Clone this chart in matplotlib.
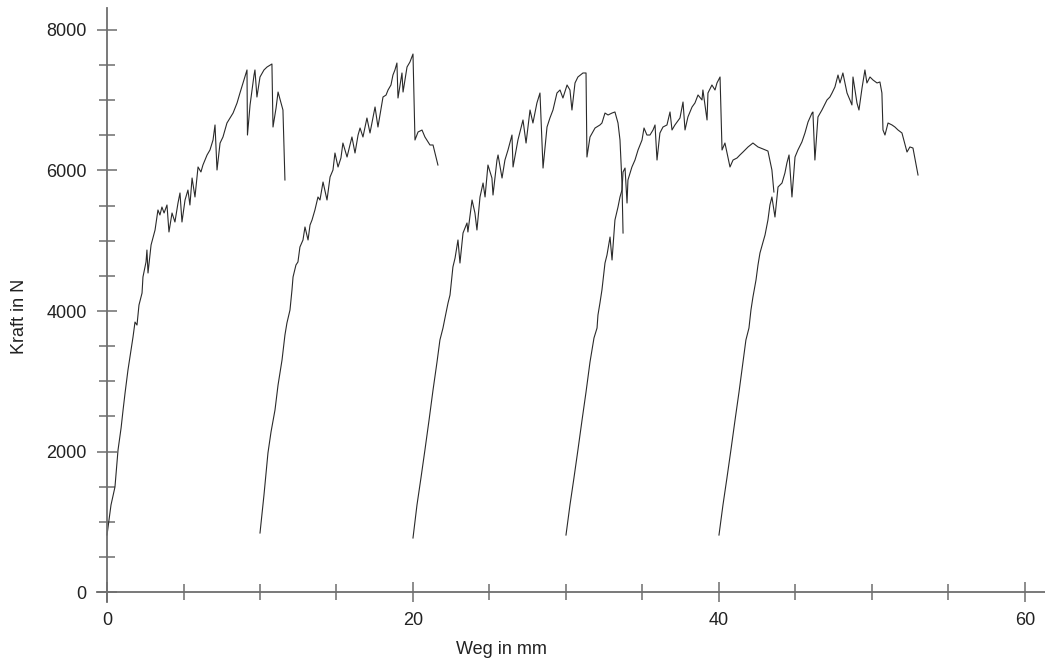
import matplotlib.pyplot as plt
from matplotlib.ticker import MultipleLocator

# Kraft-Weg-Kurven, fuenf Versuche
weg_1 = [0.00, 0.26, 0.52, 0.72, 0.92, 1.05, 1.18, 1.37, 1.57, 1.70, 1.83, 1.96, 2.09, 2.29, 2.35,
         2.55, 2.61, 2.68, 2.88, 3.14, 3.33, 3.46, 3.59, 3.73, 3.92, 4.05, 4.25, 4.44, 4.64, 4.77,
         4.90, 5.10, 5.29, 5.42, 5.56, 5.75, 5.95, 6.14, 6.27, 6.54, 6.73, 6.93, 7.06, 7.19, 7.39,
         7.58, 7.84, 8.04, 8.24, 8.50, 8.69, 8.95, 9.15, 9.18, 9.35, 9.48, 9.61, 9.67, 9.80, 10.00,
         10.26, 10.46, 10.78, 10.85, 11.05, 11.18, 11.50, 11.63]
kraft_1 = [811, 1238, 1495, 2021, 2335, 2591, 2833, 3160, 3445, 3630, 3843, 3800, 4085, 4256, 4484,
           4698, 4868, 4541, 4940, 5153, 5438, 5367, 5480, 5395, 5509, 5125, 5395, 5267, 5537, 5680,
           5267, 5580, 5722, 5509, 5893, 5623, 6050, 5979, 6078, 6221, 6292, 6434, 6648, 6007, 6391,
           6477, 6676, 6747, 6818, 6961, 7103, 7288, 7431, 6505, 6932, 7146, 7359, 7431, 7046, 7331,
           7431, 7473, 7516, 6619, 6890, 7117, 6861, 5865]

weg_2 = [10.00, 10.26, 10.52, 10.72, 10.98, 11.18, 11.44, 11.63, 11.76, 11.96, 12.09, 12.16, 12.35,
         12.48, 12.61, 12.81, 12.94, 13.14, 13.27, 13.40, 13.59, 13.79, 13.92, 14.12, 14.38, 14.58,
         14.77, 14.90, 15.10, 15.29, 15.42, 15.69, 15.88, 16.01, 16.21, 16.41, 16.54, 16.73, 16.99,
         17.19, 17.52, 17.71, 18.04, 18.24, 18.37, 18.56, 18.69, 18.82, 18.95, 19.02, 19.28, 19.35,
         19.61, 19.80, 20.00, 20.13, 20.33, 20.59, 20.78, 21.11, 21.31, 21.63]
kraft_2 = [840, 1381, 1979, 2278, 2591, 2947, 3303, 3658, 3829, 4014, 4299, 4484, 4655,
           4698, 4911, 5011, 5196, 5011, 5224, 5295, 5438, 5623, 5580, 5836, 5580, 5908,
           6007, 6249, 6050, 6178, 6391, 6192, 6363, 6477, 6249, 6505, 6605, 6477, 6747,
           6534, 6904, 6619, 7046, 7074, 7146, 7217, 7359, 7431, 7530, 7032, 7388, 7117,
           7473, 7544, 7658, 6434, 6548, 6576, 6477, 6363, 6363, 6078]

weg_3 = [20.00, 20.26, 20.52, 20.78, 21.05, 21.31, 21.57, 21.76, 21.96, 22.09, 22.29, 22.42, 22.61,
         22.75, 22.94, 23.07, 23.27, 23.53, 23.59, 23.86, 24.05, 24.18, 24.38, 24.58, 24.71, 24.90,
         25.16, 25.23, 25.49, 25.56, 25.82, 26.01, 26.21, 26.47, 26.54, 26.86, 27.19, 27.39, 27.65,
         27.84, 28.10, 28.30, 28.50, 28.76, 28.95, 29.15, 29.41, 29.61, 29.80, 30.07, 30.26, 30.39,
         30.59, 30.78, 31.11, 31.31, 31.37, 31.57, 31.90, 32.22, 32.35, 32.55, 32.75, 33.01, 33.20,
         33.40, 33.53, 33.66, 33.73]
kraft_3 = [769, 1238, 1623, 2021, 2448, 2876, 3274, 3587, 3758, 3900, 4114, 4228, 4627,
           4754, 5011, 4683, 5110, 5253, 5125, 5580, 5395, 5153, 5623, 5822, 5623, 6078,
           5893, 5651, 6149, 6221, 5893, 6149, 6292, 6505, 6050, 6434, 6719, 6391, 6861,
           6676, 6961, 7103, 6035, 6619, 6747, 6861, 7103, 7146, 7032, 7217, 7146, 6861,
           7246, 7331, 7388, 7388, 6192, 6477, 6605, 6648, 6676, 6818, 6790, 6818, 6833,
           6676, 6434, 5822, 5110]

weg_4 = [30.00, 30.26, 30.52, 30.78, 31.05, 31.31, 31.57, 31.83, 32.03, 32.09, 32.22, 32.35, 32.55,
         32.68, 32.88, 33.01, 33.20, 33.40, 33.53, 33.66, 33.73, 33.86, 33.99, 34.05, 34.31, 34.51,
         34.71, 34.97, 35.10, 35.29, 35.49, 35.69, 35.82, 35.95, 36.14, 36.34, 36.60, 36.80, 36.93,
         37.12, 37.45, 37.65, 37.78, 37.97, 38.24, 38.43, 38.63, 38.89, 38.95, 39.22, 39.28, 39.54,
         39.74, 39.87, 40.07, 40.20, 40.39, 40.72, 40.92, 41.18, 41.37, 41.57, 41.90, 42.22, 42.55,
         42.88, 43.20, 43.46, 43.59]
kraft_4 = [811, 1238, 1623, 2021, 2448, 2847, 3274, 3616, 3758, 3943, 4114, 4299, 4683,
           4797, 5053, 4726, 5295, 5480, 5623, 5722, 5979, 6035, 5537, 5865, 6050, 6149,
           6292, 6434, 6605, 6505, 6505, 6577, 6648, 6149, 6534, 6619, 6648, 6833, 6577,
           6648, 6747, 6975, 6577, 6762, 6904, 6961, 7075, 7004, 7146, 6719, 7103, 7217,
           7146, 7246, 7331, 6292, 6391, 6050, 6149, 6178, 6221, 6263, 6335, 6391, 6335,
           6306, 6277, 6007, 5694]

weg_5 = [40.00, 40.26, 40.52, 40.78, 41.05, 41.31, 41.57, 41.76, 41.96, 42.09, 42.22, 42.42, 42.55,
         42.68, 42.88, 43.01, 43.20, 43.33, 43.46, 43.66, 43.86, 44.12, 44.31, 44.44, 44.58, 44.77,
         44.97, 45.16, 45.42, 45.62, 45.82, 46.08, 46.14, 46.27, 46.47, 46.73, 47.06, 47.25, 47.39,
         47.58, 47.78, 47.91, 48.10, 48.37, 48.56, 48.69, 48.76, 49.02, 49.15, 49.35, 49.54, 49.67,
         49.87, 50.07, 50.33, 50.52, 50.65, 50.72, 50.85, 51.05, 51.31, 51.50, 51.70, 51.96, 52.29,
         52.48, 52.68, 53.01]
kraft_5 = [811, 1238, 1623, 2021, 2448, 2847, 3274, 3587, 3758, 4014, 4199, 4441, 4655,
           4826, 4982, 5082, 5295, 5509, 5623, 5338, 5765, 5822, 5964, 6107, 6221, 5623,
           6192, 6292, 6406, 6534, 6690, 6818, 6833, 6149, 6762, 6861, 7004, 7046, 7103,
           7189, 7359, 7246, 7388, 7103, 7004, 6933, 7331, 6961, 6861, 7174, 7431, 7246,
           7331, 7288, 7246, 7260, 7103, 6577, 6505, 6676, 6648, 6619, 6577, 6534, 6263,
           6335, 6320, 5936]

kurven = [(weg_1, kraft_1), (weg_2, kraft_2), (weg_3, kraft_3), (weg_4, kraft_4), (weg_5, kraft_5)]

axis_grey = '#6e6e6e'
font = ['Liberation Sans', 'DejaVu Sans']

fig = plt.figure(figsize=(10.45, 6.63), dpi=100)
ax = fig.add_axes([97 / 1045, 61 / 663, 948 / 1045, 594 / 663])

for weg, kraft in kurven:
    ax.plot(weg, kraft, color='#2a2a2a', lw=0.8)

ax.set_xlim(-0.654, 61.31)
ax.set_ylim(-142, 8313)

for side in ['top', 'right']:
    ax.spines[side].set_visible(False)
ax.spines['left'].set_position(('data', 0))
ax.spines['bottom'].set_position(('data', 0))
for side in ['left', 'bottom']:
    ax.spines[side].set_color(axis_grey)
    ax.spines[side].set_linewidth(1.3)

ax.xaxis.set_major_locator(MultipleLocator(20))
ax.xaxis.set_minor_locator(MultipleLocator(5))
ax.yaxis.set_major_locator(MultipleLocator(2000))
ax.yaxis.set_minor_locator(MultipleLocator(500))

ax.tick_params(which='major', direction='inout', length=15, width=1.1, color=axis_grey,
               labelsize=13, labelcolor='#222222', pad=7)
ax.tick_params(which='minor', direction='inout', length=11, width=1.1, color=axis_grey)
for lab in ax.get_xticklabels() + ax.get_yticklabels():
    lab.set_family(font)

fig.text(501 / 1045, 1 - 649 / 663, 'Weg in mm', ha='center', va='center',
         fontsize=13, color='#222222', family=font)
fig.text(20 / 1045, 1 - 316 / 663, 'Kraft in N', ha='center', va='center', rotation=90,
         fontsize=13, color='#222222', family=font)

fig.savefig('out.png', dpi=100, facecolor='white')
